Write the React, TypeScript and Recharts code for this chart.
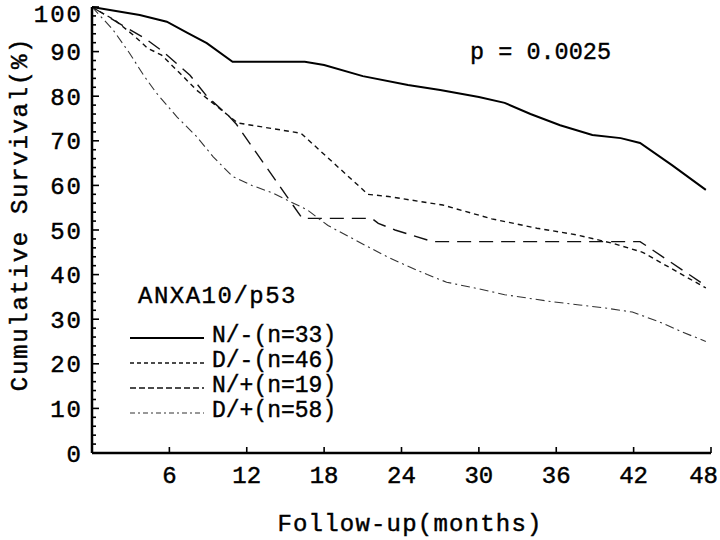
import React from 'react'
import { LineChart, Line, XAxis, YAxis, Legend } from 'recharts'

const FONT = '"Liberation Mono", "Courier New", monospace'

// follow-up months and cumulative survival (%) per group
const nNegMonths = [0, 3.7, 5.8, 7.4, 8.9, 10.9, 16.5, 18, 21, 24.5, 27, 30, 32, 34, 36.3, 38.8, 41, 42.5, 45, 47.6]
const nNegSurv   = [100, 98.2, 96.7, 94.2, 91.9, 87.7, 87.7, 87, 84.5, 82.5, 81.4, 79.8, 78.5, 76, 73.5, 71.3, 70.6, 69.5, 64.5, 59]

const dNegMonths = [0, 1.8, 3.2, 4.3, 5.4, 6.8, 8.1, 10, 11.3, 16.2, 21.4, 23, 27.2, 31, 34.5, 37.6, 40.4, 42.7, 47.6]
const dNegSurv   = [100, 97, 93.7, 90.8, 89.2, 85.2, 81.4, 77, 74, 71.7, 58, 57.5, 55.6, 52.5, 50.4, 48.9, 47, 45, 37]

const nPosMonths = [0, 2, 4.1, 5.5, 7.6, 8.9, 10.7, 11.2, 16.3, 21.7, 22.2, 23.5, 26.4, 42.5, 47.6]
const nPosSurv   = [100, 96.5, 93, 90, 84.7, 80, 75.3, 73.7, 52.6, 52.6, 51.5, 50, 47.4, 47.4, 37.5]

const dPosMonths = [0, 1.6, 2.9, 4, 5, 6.6, 8.1, 9.4, 10.9, 12.4, 14, 16.7, 18.3, 20, 22.6, 24.4, 26, 27.5, 30, 32, 35.7, 37.8, 39.8, 41.9, 44, 45.8, 47.6]
const dPosSurv   = [100, 95, 89.7, 84.7, 80.7, 75.3, 71, 66.4, 62, 60, 58.3, 54.5, 51, 48.4, 44.4, 42, 40, 38.3, 36.8, 35.5, 33.9, 33.2, 32.5, 31.6, 29.4, 27.1, 25]

const xTicks = [6, 12, 18, 24, 30, 36, 42, 48]
const yTicks = [0, 2, 4, 6, 8, 10, 12, 14, 16, 18, 20, 22, 24, 26, 28, 30, 32, 34, 36, 38, 40, 42, 44, 46, 48,
  50, 52, 54, 56, 58, 60, 62, 64, 66, 68, 70, 72, 74, 76, 78, 80, 82, 84, 86, 88, 90, 92, 94, 96, 98, 100]

const toRows = (m: number[], s: number[]) => m.map((month, i) => ({ month, surv: s[i] }))

const series = [
  { name: 'N/-(n=33)', data: toRows(nNegMonths, nNegSurv), dash: undefined, legendDash: undefined, width: 2, color: '#000' },
  { name: 'D/-(n=46)', data: toRows(dNegMonths, dNegSurv), dash: '5 4', legendDash: '4 3', width: 1.4, color: '#111' },
  { name: 'N/+(n=19)', data: toRows(nPosMonths, nPosSurv), dash: '14 8', legendDash: '6 3', width: 1.4, color: '#111' },
  { name: 'D/+(n=58)', data: toRows(dPosMonths, dPosSurv), dash: '9 4 2 4', legendDash: '5 3 2 3', width: 1.1, color: '#333' },
]

const txt = { fontFamily: FONT, fontSize: 24, fill: '#000', stroke: '#000', strokeWidth: 0.45 }

const LeftTick = ({ x, y, payload }: any) => {
  const ax = x + 10
  const major = payload.value % 10 === 0
  const shift = payload.value === 100 ? 6 : 0
  return (
    <g>
      <line x1={ax} x2={ax + (major ? 7 : 4)} y1={y} y2={y} stroke="#000" strokeWidth={1.6} />
      {major && (
        <text x={ax - 9} y={y + shift} dy="0.36em" textAnchor="end" letterSpacing={2} {...txt}>
          {payload.value}
        </text>
      )}
    </g>
  )
}

const RightTick = ({ x, y, payload }: any) => {
  const major = payload.value % 10 === 0
  return <line x1={x} x2={x - (major ? 6 : 4)} y1={y} y2={y} stroke="#000" strokeWidth={1.6} />
}

const BottomTick = ({ x, y, payload }: any) => {
  const ay = y - 14
  const last = payload.value === 48
  return (
    <g>
      <line x1={x} x2={x} y1={ay} y2={ay - 6} stroke="#000" strokeWidth={1.6} />
      <text x={last ? x + 7 : x} y={ay + 30} textAnchor={last ? 'end' : 'middle'} {...txt}>
        {payload.value}
      </text>
    </g>
  )
}

const TopTick = ({ x, y }: any) => (
  <line x1={x} x2={x} y1={y} y2={y + 6} stroke="#000" strokeWidth={1.6} />
)

const renderLegend = () => (
  <div style={{ fontFamily: FONT, color: '#000', WebkitTextStroke: '0.4px #000' }}>
    <div style={{ fontSize: 24, letterSpacing: 1.5, height: 30, lineHeight: '30px', paddingLeft: 12,
                  marginBottom: 12, textAlign: 'left' }}>
      ANXA10/p53
    </div>
    {series.map(s => (
      <div key={s.name} style={{ display: 'flex', alignItems: 'center', height: 25 }}>
        <svg width={86} height={25}>
          <line x1={4} x2={78} y1={14} y2={14} stroke={s.color}
                strokeWidth={s.width} strokeDasharray={s.legendDash} />
        </svg>
        <span style={{ fontSize: 23, lineHeight: '25px', whiteSpace: 'pre' }}>{s.name}</span>
      </div>
    ))}
  </div>
)

const axisLine = { stroke: '#000', strokeWidth: 2.5 }

export default function App() {
  return (
    <div style={{ position: 'absolute', left: 0, top: 0, width: 720, height: 540, background: '#fff' }}>
      <LineChart width={720} height={540} margin={{ top: 7, right: 9, bottom: 0, left: 0 }}>
        <XAxis dataKey="month" type="number" domain={[0, 48]} ticks={xTicks} interval={0}
               height={87} tickSize={0} tickMargin={14} tick={<BottomTick />} axisLine={axisLine}
               allowDuplicatedCategory={false}
               label={{ content: () => (
                 <text x={410} y={531} textAnchor="middle" letterSpacing={1.2} {...txt}>
                   Follow-up(months)
                 </text>
               ) }} />
        <XAxis xAxisId="top" orientation="top" type="number" domain={[0, 48]} ticks={xTicks}
               interval={0} height={0} tickSize={0} tickMargin={0} tick={<TopTick />} axisLine={axisLine} />
        <YAxis type="number" domain={[0, 100]} ticks={yTicks} interval={0} width={92}
               tickSize={0} tickMargin={10} tick={<LeftTick />} axisLine={axisLine}
               label={{ content: () => (
                 <text transform="translate(18,214) rotate(-90)" textAnchor="middle" dy="0.36em"
                       letterSpacing={1.7} {...txt}>
                   Cumulative Survival(%)
                 </text>
               ) }} />
        <YAxis yAxisId="right" orientation="right" type="number" domain={[0, 100]} ticks={yTicks}
               interval={0} width={0} tickSize={0} tickMargin={0} tick={<RightTick />} axisLine={axisLine} />
        {series.map(s => (
          <Line key={s.name} data={s.data} dataKey="surv" name={s.name} type="linear"
                stroke={s.color} strokeWidth={s.width} strokeDasharray={s.dash}
                dot={false} activeDot={false} isAnimationActive={false} />
        ))}
        <Legend layout="horizontal" verticalAlign="middle" align="center" content={renderLegend}
                wrapperStyle={{ position: 'absolute', left: 126, top: 282, width: 'auto', height: 'auto' }} />
      </LineChart>
      <div style={{ position: 'absolute', left: 470, top: 38, fontFamily: FONT, fontSize: 23.5,
                    lineHeight: '30px', whiteSpace: 'pre', color: '#000', WebkitTextStroke: '0.4px #000' }}>
        p = 0.0025
      </div>
    </div>
  )
}
